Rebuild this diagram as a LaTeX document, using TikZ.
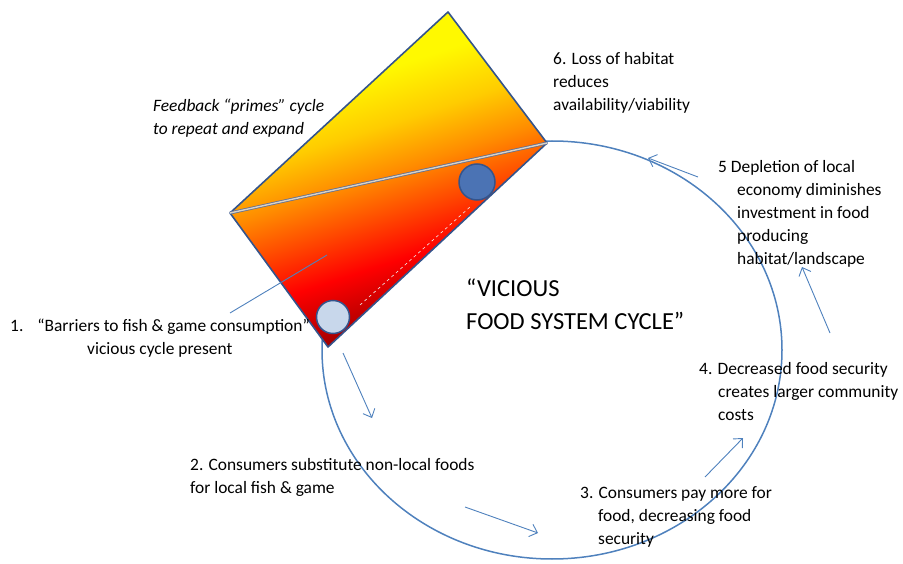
\documentclass[tikz,border=0pt]{standalone}
\usepackage{fontspec}
\setmainfont{Carlito}
\usetikzlibrary{arrows.meta}
\definecolor{cycleblue}{RGB}{79,129,189}
\definecolor{boxedge}{RGB}{52,84,140}
\definecolor{darkred}{RGB}{115,0,0}
\definecolor{ballblue}{RGB}{75,115,180}
\definecolor{restblue}{RGB}{200,215,235}
\pgfdeclareverticalshading{habitat}{100bp}{color(0bp)=(darkred); color(25bp)=(darkred); color(31bp)=(darkred!50!red); color(38bp)=(red); color(45bp)=(red!40!orange); color(51bp)=(orange!90!yellow); color(58bp)=(orange!40!yellow); color(66bp)=(yellow!95!orange); color(100bp)=(yellow!95!orange)}
\begin{document}
\begin{tikzpicture}[x=1pt,y=-1pt,
    label/.style={font=\fontsize{17.4}{23}\selectfont, align=left, anchor=north west, inner sep=0pt},
    flow/.style={cycleblue, line width=0.9pt, -{Straight Barb[length=7pt,width=13pt]}}]
  \useasboundingbox (0,0) rectangle (903,564);
  % the cycle
  \draw[cycleblue, line width=1.5pt] (552,350) ellipse (230 and 209);
  % the tilted box
  \coordinate (top) at (448,12);
  \coordinate (right) at (547,143);
  \coordinate (bottom) at (328,347);
  \coordinate (left) at (230,213);
  \shade[shading=habitat, shading angle=18] (top) -- (right) -- (bottom) -- (left) -- cycle;
  \draw[boxedge, line width=1.6pt, line join=round] (top) -- (right) -- (bottom) -- (left) -- cycle;
  \draw[draw={rgb,255:red,100;green,112;blue,145}, double={rgb,255:red,215;green,210;blue,200},
    line width=0.8pt, double distance=1.4pt] (left) -- (right);
  \coordinate (d1) at (360,305);
  \coordinate (d2) at (470,207);
  \draw[white!85!gray, dashed, line width=0.6pt] (d1) -- (d2);
  \node[circle, draw=boxedge, fill=ballblue, line width=1.5pt, minimum size=36pt, inner sep=0pt] (ball) at (477,182) {};
  \node[circle, draw=boxedge, fill=restblue, line width=1.5pt, minimum size=33pt, inner sep=0pt] (rest) at (333,317) {};
  % labels
  \draw
    (153,99) node[label, font=\fontsize{17.4}{23}\selectfont\itshape] (feedback){Feedback “primes” cycle\\to repeat and expand}
    (553,52) node[label] (six){6. Loss of habitat\\reduces\\availability/viability}
    (718,160) node[label] (five){5 Depletion of local\\\hspace*{19pt}economy diminishes\\\hspace*{19pt}investment in food\\\hspace*{19pt}producing\\\hspace*{19pt}habitat/landscape}
    (466,279) node[label, font=\fontsize{24.5}{33}\selectfont] (title){“VICIOUS\\FOOD SYSTEM CYCLE”}
    (10,319) node[label] (one){1.\hspace{14pt}“Barriers to fish \& game consumption”\\\hspace*{77pt}vicious cycle present}
    (699,362) node[label] (four){4. Decreased food security\\\hspace*{19pt}creates larger community\\\hspace*{19pt}costs}
    (190,458) node[label] (two){2. Consumers substitute non-local foods\\for local fish \& game}
    (580,486) node[label] (three){3. Consumers pay more for\\\hspace*{18pt}food, decreasing food\\\hspace*{18pt}security};
  % pointer and flow arrows
  \coordinate (p1) at (230,313);
  \coordinate (p2) at (327,255);
  \draw[cycleblue, line width=0.9pt] (p1) -- (p2);
  \coordinate (a1) at (343,353);
  \coordinate (b1) at (372,418);
  \coordinate (a2) at (465,507);
  \coordinate (b2) at (538,533);
  \coordinate (a3) at (705,477);
  \coordinate (b3) at (743,438);
  \coordinate (a4) at (830,333);
  \coordinate (b4) at (802,267);
  \coordinate (a5) at (698,177);
  \coordinate (b5) at (648,158);
  \draw[flow] (a1) -- (b1);
  \draw[flow] (a2) -- (b2);
  \draw[flow] (a3) -- (b3);
  \draw[flow] (a4) -- (b4);
  \draw[flow] (a5) -- (b5);
\end{tikzpicture}
\end{document}
